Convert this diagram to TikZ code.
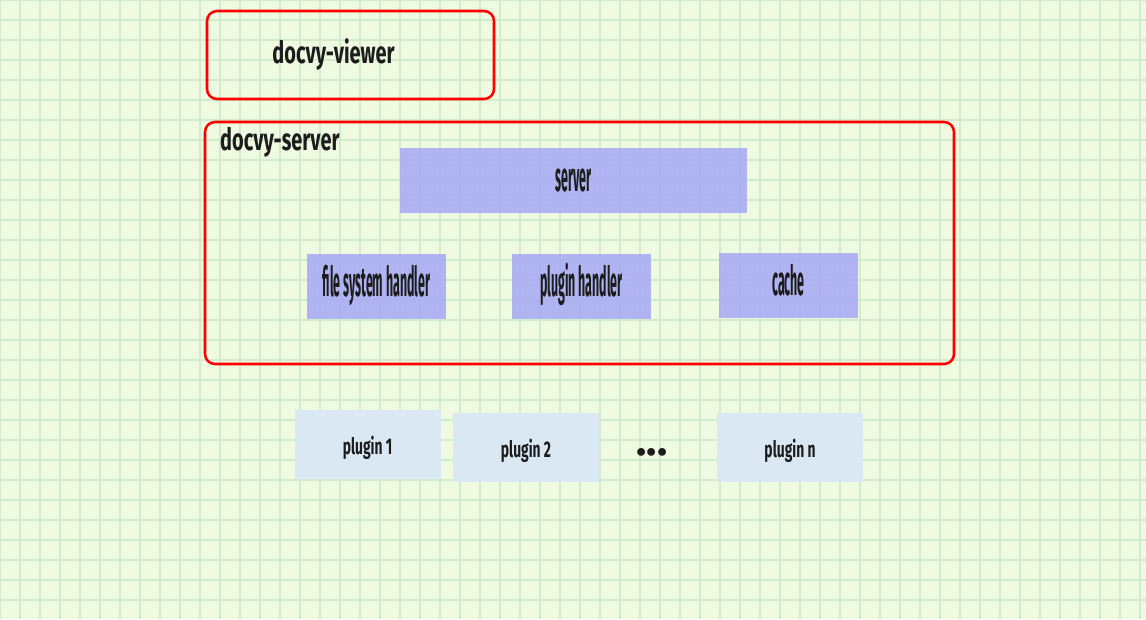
\documentclass[tikz,border=0pt]{standalone}
\usepackage{fontspec}
\setmainfont{Fira Sans}
\usetikzlibrary{positioning}

\definecolor{paper}{RGB}{240,250,225}
\definecolor{gridgreen}{RGB}{208,236,204}
\definecolor{frame}{RGB}{255,0,0}
\definecolor{partblue}{RGB}{166,168,245}
\definecolor{plugblue}{RGB}{218,232,243}
\definecolor{ink}{RGB}{28,28,28}

\begin{document}
\begin{tikzpicture}[x=0.75pt,y=-0.75pt,
	every node/.style={text=ink,inner sep=0pt},
	container/.style={draw=frame,line width=1.9pt,rounded corners=7.5pt},
	title/.style={font=\fontsize{23}{25}\selectfont\bfseries,xscale=0.65},
	partbox/.style={fill=partblue,fill opacity=0.85,text opacity=1,
		minimum width=104.25pt,minimum height=48.75pt,
		text height=22pt,text depth=6pt,
		font=\fontsize{31}{33}\selectfont\bfseries},
	plugbox/.style={fill=plugblue,minimum width=109.5pt,minimum height=51.75pt,
		text height=19pt,text depth=3.5pt,
		font=\fontsize{17}{19}\selectfont\bfseries}
	]
	\useasboundingbox (0,0) rectangle (1146,619);
	\fill[paper] (0,0) rectangle (1146,619);
	\foreach \gx in {0,20,...,1140}
		\draw[gridgreen,line width=0.9pt] (\gx,0) -- (\gx,619);
	\foreach \gy in {0,20,...,600}
		\draw[gridgreen,line width=0.9pt] (0,\gy) -- (1146,\gy);

	%the viewer on top
	\draw[container] (207,11) rectangle (494,99);
	\node[title,anchor=base] (viewer) at (333.5,63) {docvy-viewer};

	%the server and its parts
	\draw[container] (205,122) rectangle (954,364);
	\node[title,anchor=base west] (srvlabel) at (220,150) {docvy-server};

	\node[partbox,minimum width=260.25pt] (server) at (573.5,180.5)
		{\scalebox{0.3}[1]{server}};
	\node[partbox] (fshandler) at (376.5,286)
		{\scalebox{0.3}[1]{file system handler}};
	\node[partbox] (plughandler) at (581.5,286)
		{\scalebox{0.3}[1]{plugin handler}};
	\node[partbox] (cache) at (788.5,285)
		{\scalebox{0.3}[1]{cache}};

	%plugins below
	\node[plugbox] (plugA) at (367.5,444.5) {\scalebox{0.61}[1]{plugin 1}};
	\node[plugbox] (plugB) at (526,447.5) {\scalebox{0.61}[1]{plugin 2}};
	\node[font=\fontsize{32}{34}\selectfont\bfseries] (dots) at (652,452) {...};
	\node[plugbox] (plugN) at (790,447.5) {\scalebox{0.61}[1]{plugin n}};
\end{tikzpicture}
\end{document}
